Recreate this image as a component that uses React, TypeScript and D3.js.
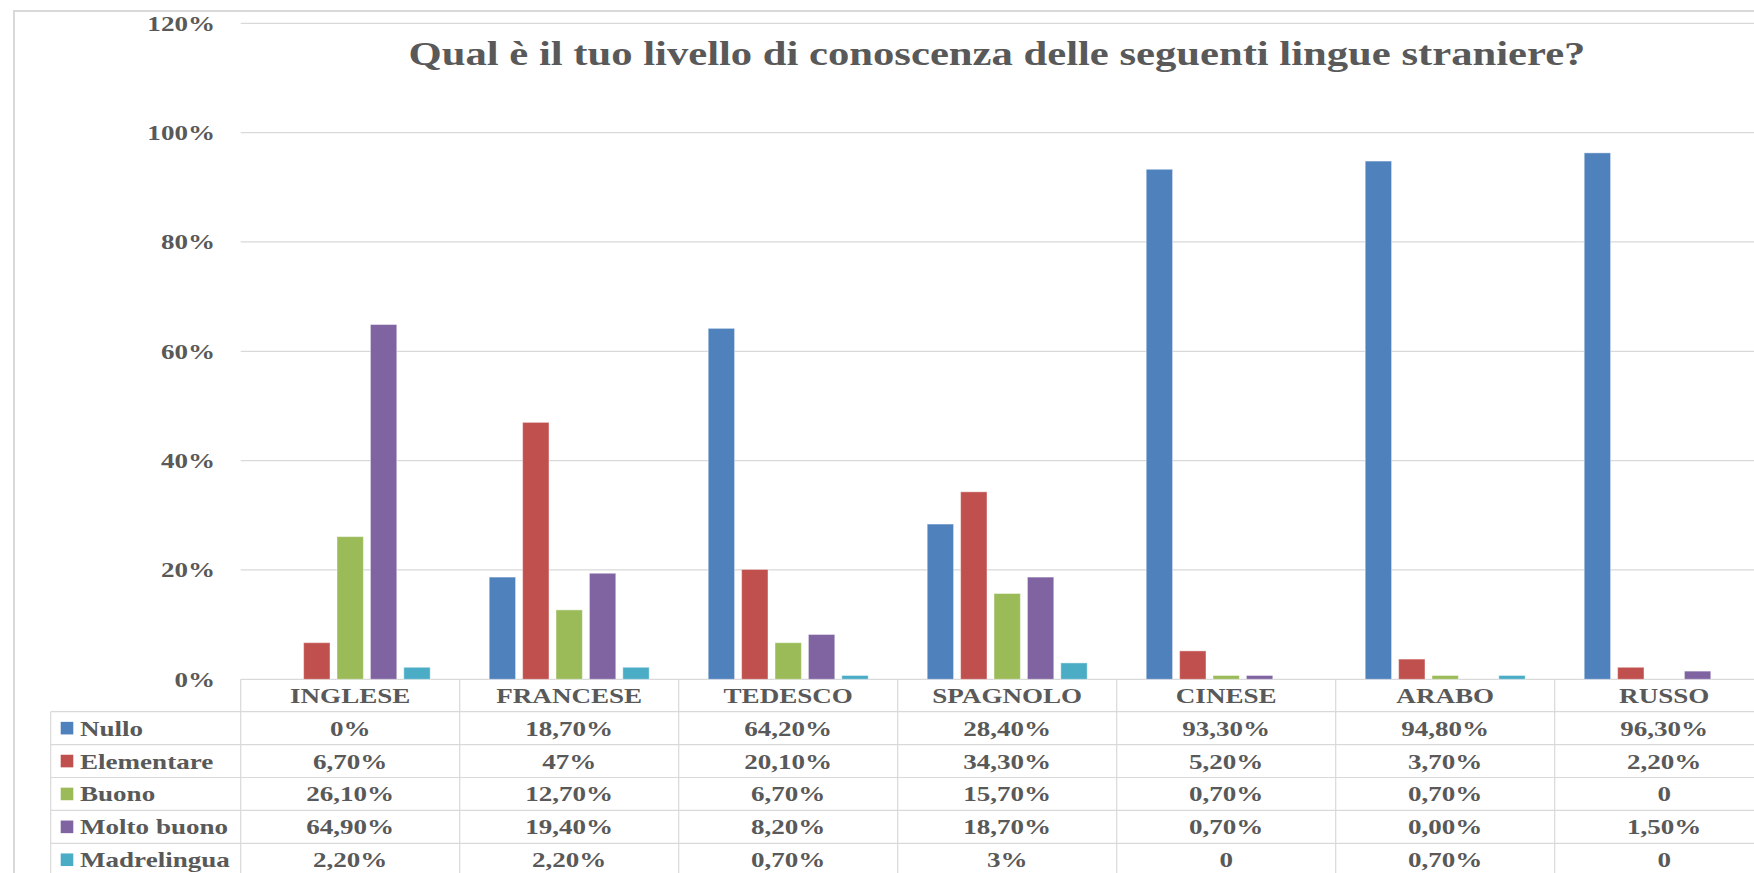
import React from "react";
import * as d3 from "d3";

const categories = ["INGLESE", "FRANCESE", "TEDESCO", "SPAGNOLO", "CINESE", "ARABO", "RUSSO"];
const seriesNames = ["Nullo", "Elementare", "Buono", "Molto buono", "Madrelingua"];
const seriesColors = ["#4F81BD", "#C0504D", "#9BBB59", "#8064A2", "#4BACC6"];

const nulloValues = [0, 18.7, 64.2, 28.4, 93.3, 94.8, 96.3];
const elementareValues = [6.7, 47, 20.1, 34.3, 5.2, 3.7, 2.2];
const buonoValues = [26.1, 12.7, 6.7, 15.7, 0.7, 0.7, 0];
const moltoBuonoValues = [64.9, 19.4, 8.2, 18.7, 0.7, 0, 1.5];
const madrelinguaValues = [2.2, 2.2, 0.7, 3, 0, 0.7, 0];

const nulloLabels = ["0%", "18,70%", "64,20%", "28,40%", "93,30%", "94,80%", "96,30%"];
const elementareLabels = ["6,70%", "47%", "20,10%", "34,30%", "5,20%", "3,70%", "2,20%"];
const buonoLabels = ["26,10%", "12,70%", "6,70%", "15,70%", "0,70%", "0,70%", "0"];
const moltoBuonoLabels = ["64,90%", "19,40%", "8,20%", "18,70%", "0,70%", "0,00%", "1,50%"];
const madrelinguaLabels = ["2,20%", "2,20%", "0,70%", "3%", "0", "0,70%", "0"];

const yTicks = [0, 20, 40, 60, 80, 100, 120];
const yTickLabels = ["0%", "20%", "40%", "60%", "80%", "100%", "120%"];

const title = "Qual è il tuo livello di conoscenza delle seguenti lingue straniere?";

const seriesValues = [nulloValues, elementareValues, buonoValues, moltoBuonoValues, madrelinguaValues];
const seriesLabels = [nulloLabels, elementareLabels, buonoLabels, moltoBuonoLabels, madrelinguaLabels];

const W = 1754;
const H = 873;
const plotLeft = 240.7;
const bandW = 219;
const y0 = 679.3;
const yTop = 23.3;
const headerH = 32.4;
const rowH = 32.9;
const tableLeft = 50.7;
const textColor = "#595959";
const lineColor = "#d9d9d9";
const font = "'Liberation Serif', 'Times New Roman', serif";
const sx = 1.23;

function STxt({ x, y, children, anchor = "middle", size = 22, scale = sx }: any) {
  return (
    <text
      transform={`translate(${x},${y}) scale(${scale},1)`}
      textAnchor={anchor}
      fontFamily={font}
      fontWeight="bold"
      fontSize={size}
      fill={textColor}
    >
      {children}
    </text>
  );
}

export default function App() {
  const x0 = d3
    .scaleBand<string>()
    .domain(categories)
    .range([plotLeft, plotLeft + bandW * categories.length])
    .paddingInner(0)
    .paddingOuter(0);
  const x1 = d3
    .scaleBand<string>()
    .domain(seriesNames)
    .range([29.5, 189.5])
    .paddingInner(0.21)
    .paddingOuter(0);
  const y = d3.scaleLinear().domain([0, 120]).range([y0, yTop]);

  const tableBottom = y0 + headerH + rowH * seriesNames.length;

  return (
    <svg
      width={W}
      height={H}
      style={{ position: "absolute", left: 0, top: 0, background: "#fff" }}
    >
      <rect x={0} y={0} width={W} height={H} fill="#fff" />
      {/* outer chart border */}
      <rect x={14} y={11} width={W + 100} height={H + 100} fill="none" stroke={lineColor} strokeWidth={2} />

      {/* gridlines */}
      {yTicks.map((t) => (
        <line key={t} x1={plotLeft} x2={W} y1={y(t)} y2={y(t)} stroke={lineColor} strokeWidth={1.2} />
      ))}
      {yTicks.map((t, i) => (
        <STxt key={"yl" + t} x={215} y={y(t) + 7.5} anchor="end">
          {yTickLabels[i]}
        </STxt>
      ))}

      {/* title */}
      <STxt x={997} y={64.5} size={34} scale={1.255}>
        {title}
      </STxt>

      {/* bars */}
      {categories.map((c, ci) => (
        <g key={c} transform={`translate(${x0(c)},0)`}>
          {seriesNames.map((s, si) => {
            const v = seriesValues[si][ci];
            if (v <= 0) return null;
            return (
              <rect
                key={s}
                x={x1(s)}
                y={y(v)}
                width={x1.bandwidth()}
                height={y0 - y(v)}
                fill={seriesColors[si]}
                stroke="rgba(255,255,255,0.45)"
                strokeWidth={1}
              />
            );
          })}
        </g>
      ))}

      {/* data table lines */}
      {seriesNames.map((s, si) => {
        const yy = y0 + headerH + rowH * si;
        return <line key={"h" + s} x1={tableLeft} x2={W} y1={yy} y2={yy} stroke={lineColor} strokeWidth={1.2} />;
      })}
      <line x1={tableLeft} x2={tableLeft} y1={y0 + headerH} y2={tableBottom} stroke={lineColor} strokeWidth={1.2} />
      {categories.map((c) => (
        <line key={"v" + c} x1={x0(c)} x2={x0(c)} y1={y0} y2={tableBottom} stroke={lineColor} strokeWidth={1.2} />
      ))}

      {/* header texts */}
      {categories.map((c) => (
        <STxt key={"ct" + c} x={(x0(c) as number) + bandW / 2} y={y0 + headerH / 2 + 7.5}>
          {c}
        </STxt>
      ))}

      {/* rows */}
      {seriesNames.map((s, si) => {
        const cy = y0 + headerH + rowH * si + rowH / 2;
        return (
          <g key={"r" + s}>
            <rect x={60.7} y={cy - 6.3} width={12.6} height={12.6} fill={seriesColors[si]} />
            <STxt x={80} y={cy + 7.5} anchor="start">
              {s}
            </STxt>
            {categories.map((c, ci) => (
              <STxt key={c} x={(x0(c) as number) + bandW / 2} y={cy + 7.5}>
                {seriesLabels[si][ci]}
              </STxt>
            ))}
          </g>
        );
      })}
    </svg>
  );
}
